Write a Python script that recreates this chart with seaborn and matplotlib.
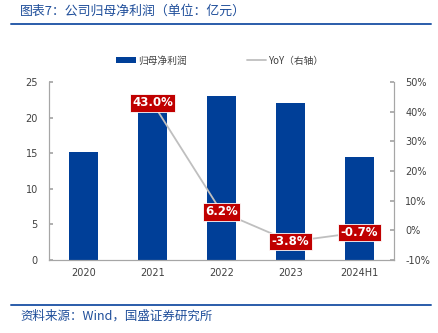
import matplotlib
matplotlib.use("Agg")
import matplotlib.pyplot as plt
import seaborn as sns
import pandas as pd
from matplotlib.lines import Line2D
from matplotlib.patches import Patch

categories = ["2020", "2021", "2022", "2023", "2024H1"]
profit = [15.2, 21.7, 23.0, 22.1, 14.4]
yoy_categories = ["2021", "2022", "2023", "2024H1"]
yoy = [43.0, 6.2, -3.8, -0.7]
yoy_labels = ["43.0%", "6.2%", "-3.8%", "-0.7%"]
left_ticks = [0, 5, 10, 15, 20, 25]
right_ticks = [-10, 0, 10, 20, 30, 40, 50]

sns.set_theme(style="white")
plt.rcParams["font.family"] = ["Noto Sans CJK SC", "DejaVu Sans"]

BLUE = "#003F98"
RED = "#C00000"
GRAY = "#BFBFBF"
TXT = "#404040"
TITLE_BLUE = "#1F4E9A"

fig = plt.figure(figsize=(4.39, 3.33), dpi=100)
ax = fig.add_axes([49/439, 73/333, 345/439, 178/333])

df = pd.DataFrame({"cat": categories, "val": profit})
sns.barplot(data=df, x="cat", y="val", color=BLUE, width=0.43, ax=ax,
            saturation=1, edgecolor="none")
ax.set_xlim(-0.5, len(categories) - 0.5)
ax.set_ylim(0, 25)
ax.set_yticks(left_ticks)
ax.set_xlabel("")
ax.set_ylabel("")

ax2 = ax.twinx()
pos = [categories.index(c) for c in yoy_categories]
sns.lineplot(x=pos, y=yoy, color=GRAY, linewidth=1.3, ax=ax2)
ax2.set_ylim(-10, 50)
ax2.set_yticks(right_ticks)
ax2.set_yticklabels([f"{t}%" for t in right_ticks])
ax2.set_xlim(-0.5, len(categories) - 0.5)

for p, v, lab in zip(pos, yoy, yoy_labels):
    ax2.text(p, v, lab, ha="center", va="center", color="white",
             fontsize=8.5, fontweight="bold", family="DejaVu Sans",
             bbox=dict(boxstyle="square,pad=0.2", fc=RED, ec="white", lw=0.6),
             zorder=5)

for a in (ax, ax2):
    a.spines["top"].set_visible(False)
    for s in ["left", "right", "bottom"]:
        a.spines[s].set_color("#A6A6A6")
        a.spines[s].set_linewidth(0.8)

ax.tick_params(axis="y", direction="in", length=3, color="#A6A6A6",
               labelsize=7, labelcolor=TXT, pad=8)
ax2.tick_params(axis="y", direction="in", length=3, color="#A6A6A6",
                labelsize=7, labelcolor=TXT, pad=8)
ax.tick_params(axis="x", length=0, labelsize=7, labelcolor=TXT, pad=6)
ax.set_xticks([i - 0.5 for i in range(len(categories) + 1)], minor=True)
ax.tick_params(axis="x", which="minor", direction="out", length=3,
               color="#A6A6A6", width=0.8)
for lab in ax.get_xticklabels() + ax.get_yticklabels() + ax2.get_yticklabels():
    lab.set_family("DejaVu Sans")

handles = [Patch(facecolor=BLUE, edgecolor="none", label="归母净利润"),
           Line2D([], [], color=GRAY, lw=1.3, label="YoY（右轴）")]
fig.legend(handles=handles, loc="center", bbox_to_anchor=(0.501, 0.818),
           ncol=2, frameon=False, fontsize=7, handlelength=2.0,
           handleheight=0.6, columnspacing=6.2, handletextpad=0.2,
           labelcolor=TXT)

fig.text(20/439, 1 - 11/333, "图表7：公司归母净利润（单位：亿元）", color=TITLE_BLUE,
         fontsize=9.3, va="center", ha="left", style="italic")
fig.add_artist(Line2D([11/439, 431/439], [1 - 24/333, 1 - 24/333],
                      color="#2A5CAA", lw=1.4))
fig.add_artist(Line2D([11/439, 431/439], [1 - 305/333, 1 - 305/333],
                      color="#2A5CAA", lw=1.4))
fig.text(20/439, 1 - 316/333, "资料来源：Wind，国盛证券研究所", color=TITLE_BLUE,
         fontsize=9, va="center", ha="left", style="italic")

fig.savefig("out.png", dpi=100)
